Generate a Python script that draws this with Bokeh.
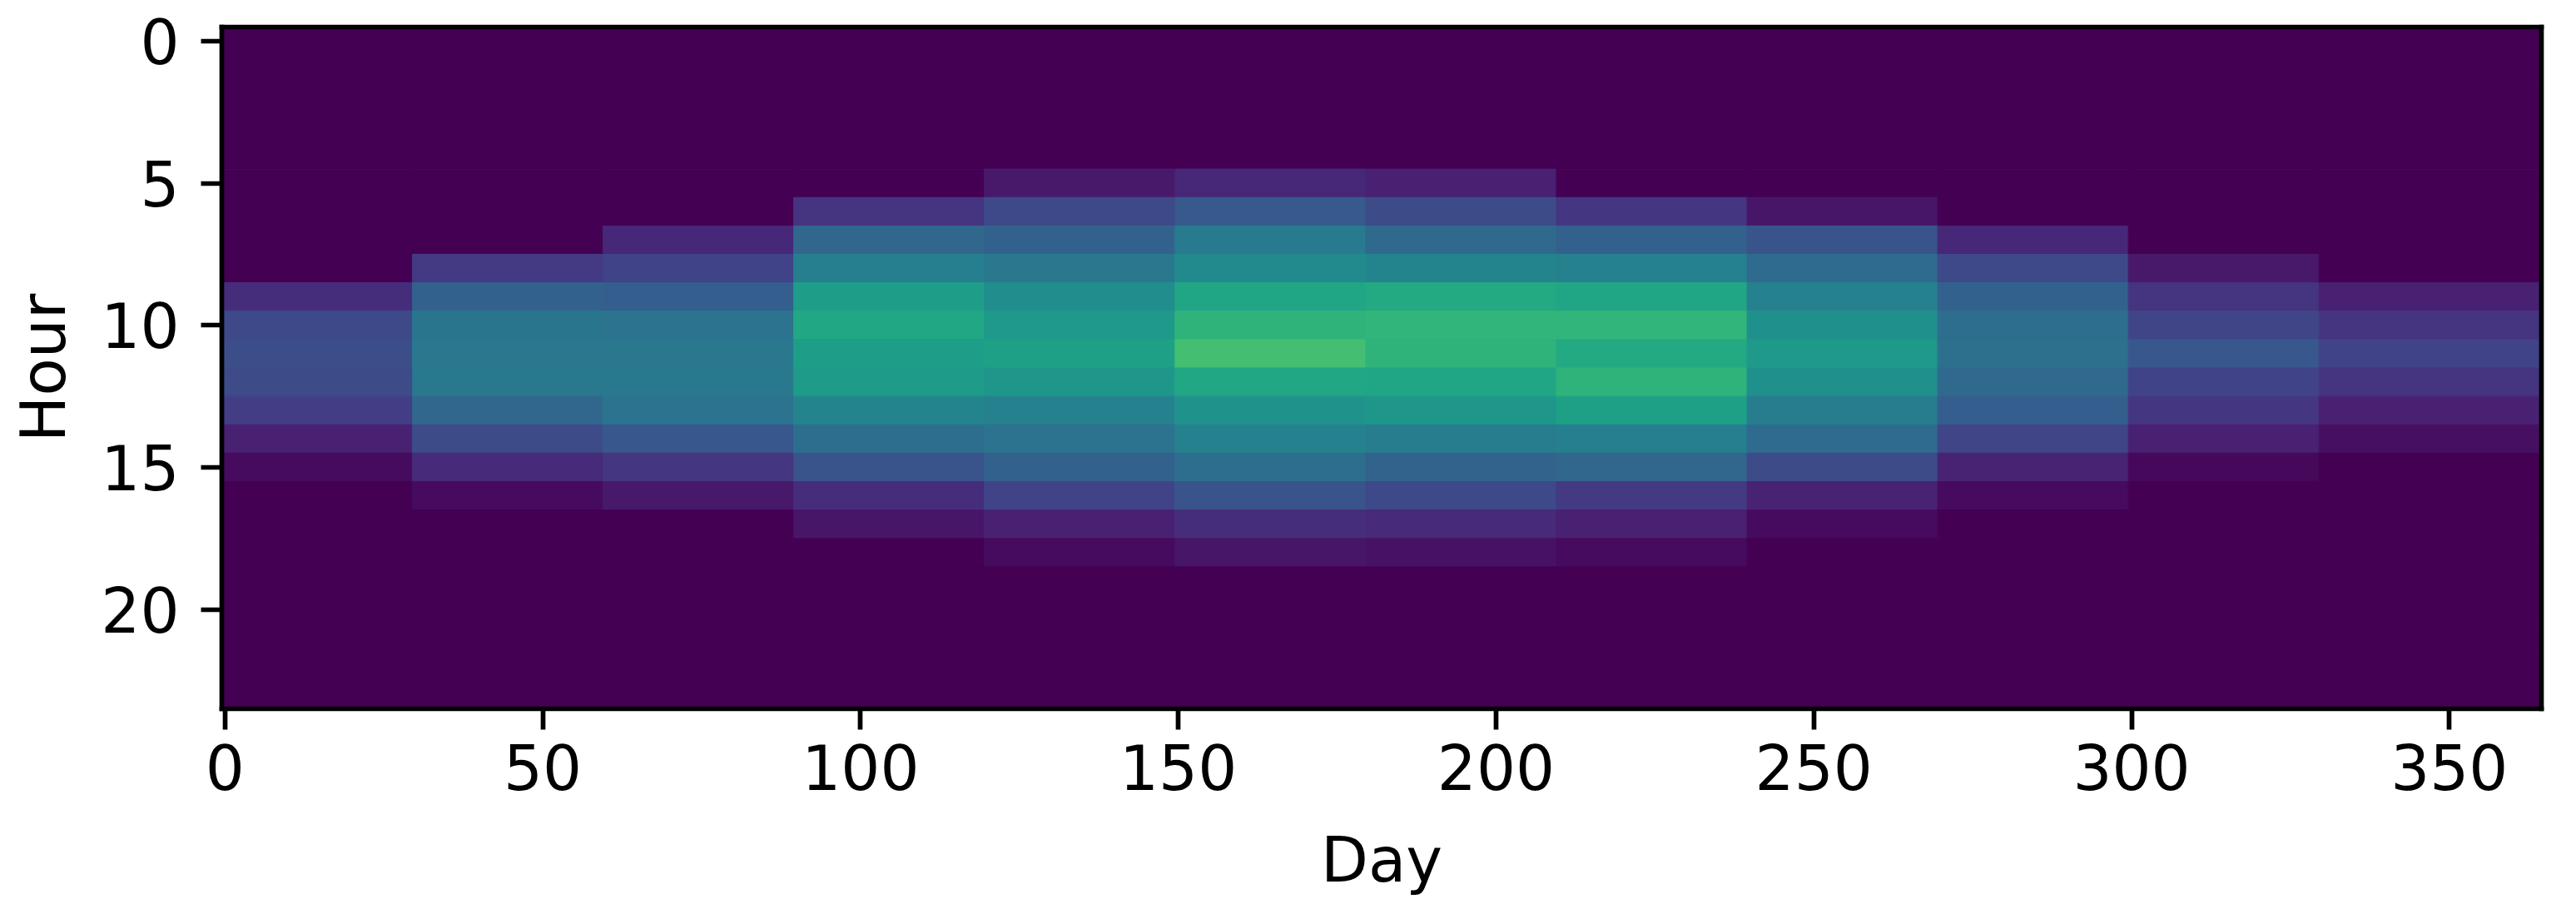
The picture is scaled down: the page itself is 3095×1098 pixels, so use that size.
from bokeh.embed import file_html
from bokeh.models import ColumnDataSource, FixedTicker, LinearAxis, Range1d
from bokeh.palettes import Viridis256
from bokeh.plotting import figure
from bokeh.resources import INLINE
from bokeh.transform import linear_cmap

# block edges along the day axis
day_edges = [0, 30, 60, 90, 120, 150, 180, 210, 240, 270, 300, 330, 365]
hours = list(range(24))

# one list per block, 24 hourly values
block_00 = [0, 0, 0, 0, 0, 0, 0, 0, 0, .13, .22, .24, .23, .18, .09, .03, 0, 0, 0, 0, 0, 0, 0, 0]
block_01 = [0, 0, 0, 0, 0, 0, 0, 0, .17, .31, .39, .40, .40, .33, .23, .12, .03, 0, 0, 0, 0, 0, 0, 0]
block_02 = [0, 0, 0, 0, 0, 0, 0, .11, .20, .30, .38, .40, .40, .38, .27, .16, .07, 0, 0, 0, 0, 0, 0, 0]
block_03 = [0, 0, 0, 0, 0, 0, .15, .33, .43, .56, .60, .56, .55, .45, .36, .26, .13, .06, 0, 0, 0, 0, 0, 0]
block_04 = [0, 0, 0, 0, 0, .07, .22, .31, .40, .49, .54, .57, .53, .44, .38, .31, .20, .09, .03, 0, 0, 0, 0, 0]
block_05 = [0, 0, 0, 0, 0, .11, .28, .41, .48, .59, .65, .70, .60, .51, .44, .36, .26, .13, .06, 0, 0, 0, 0, 0]
block_06 = [0, 0, 0, 0, 0, .09, .23, .34, .45, .61, .66, .65, .59, .53, .42, .32, .22, .12, .05, 0, 0, 0, 0, 0]
block_07 = [0, 0, 0, 0, 0, 0, .16, .31, .44, .59, .66, .61, .65, .57, .43, .33, .17, .09, .03, 0, 0, 0, 0, 0]
block_08 = [0, 0, 0, 0, 0, 0, .06, .26, .35, .44, .50, .54, .50, .42, .35, .23, .10, .03, 0, 0, 0, 0, 0, 0]
block_09 = [0, 0, 0, 0, 0, 0, 0, .11, .22, .31, .36, .37, .34, .30, .21, .10, .03, 0, 0, 0, 0, 0, 0, 0]
block_10 = [0, 0, 0, 0, 0, 0, 0, 0, .07, .15, .21, .27, .20, .16, .09, .02, 0, 0, 0, 0, 0, 0, 0, 0]
block_11 = [0, 0, 0, 0, 0, 0, 0, 0, 0, .09, .15, .20, .15, .09, .04, 0, 0, 0, 0, 0, 0, 0, 0, 0]

blocks = [block_00, block_01, block_02, block_03, block_04, block_05,
          block_06, block_07, block_08, block_09, block_10, block_11]

x_ticks = [0, 50, 100, 150, 200, 250, 300, 350]
y_ticks = [0, 5, 10, 15, 20]

left, right, top, bottom, val = [], [], [], [], []
for i, block in enumerate(blocks):
    for h in hours:
        left.append(day_edges[i] - 0.5)
        right.append(day_edges[i + 1] - 0.5)
        top.append(h - 0.5)
        bottom.append(h + 0.5)
        val.append(block[h])

src = ColumnDataSource(data=dict(left=left, right=right, top=top, bottom=bottom, val=val))

p = figure(
    frame_width=2787,
    frame_height=819,
    x_range=Range1d(-0.5, 364.5),
    y_range=Range1d(23.5, -0.5),
    x_axis_label="Day",
    y_axis_label="Hour",
    output_backend="svg",
    toolbar_location=None,
    min_border_left=266,
    min_border_right=26,
    min_border_top=32,
    min_border_bottom=231,
)

cmap = linear_cmap("val", Viridis256, 0, 1)
p.quad(left="left", right="right", top="top", bottom="bottom", source=src,
       fill_color=cmap, line_color=cmap, line_width=1)

p.grid.visible = False
p.outline_line_color = None

# the outline sits under the glyphs, so the frame is drawn with axis lines
p.add_layout(LinearAxis(ticker=FixedTicker(ticks=[])), "above")
p.add_layout(LinearAxis(ticker=FixedTicker(ticks=[])), "right")

p.below[0].ticker = FixedTicker(ticks=x_ticks)
p.left[0].ticker = FixedTicker(ticks=y_ticks)

for ax in p.below + p.left + p.above + p.right:
    ax.axis_line_color = "black"
    ax.axis_line_width = 5.7
    ax.axis_line_cap = "square"
    ax.major_tick_line_color = "black"
    ax.major_tick_line_width = 5.7
    ax.major_tick_out = 25
    ax.major_tick_in = 0
    ax.minor_tick_line_color = None

for ax, tick_gap, label_gap in ((p.below[0], 17, 38), (p.left[0], 26, 23)):
    ax.major_label_text_font = "DejaVu Sans"
    ax.major_label_text_font_size = "74px"
    ax.major_label_text_color = "black"
    ax.major_label_standoff = tick_gap
    ax.axis_label_text_font = "DejaVu Sans"
    ax.axis_label_text_font_size = "74px"
    ax.axis_label_text_font_style = "normal"
    ax.axis_label_text_color = "black"
    ax.axis_label_standoff = label_gap

open("out.html", "w").write(file_html(p, INLINE))
